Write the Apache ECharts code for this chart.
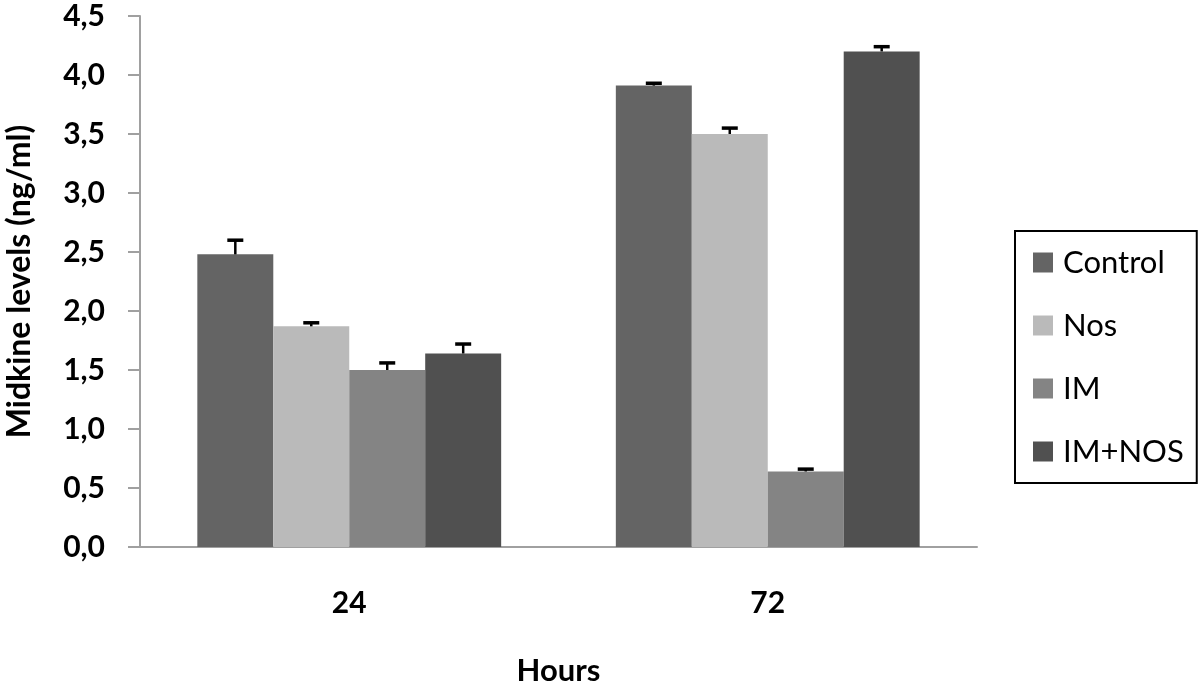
<!DOCTYPE html>
<html>
<head>
<meta charset="utf-8">
<script src="https://cdn.jsdelivr.net/npm/echarts@6/dist/echarts.min.js"></script>
<style>
  html, body { margin: 0; padding: 0; background: #fff; }
  #chart { width: 1200px; height: 688px; }
</style>
</head>
<body>
<div id="chart"></div>
<script>
const categories = ['24', '72']
const seriesNames = ['Control', 'Nos', 'IM', 'IM+NOS']
const controlValues = [2.48, 3.91]
const nosValues = [1.87, 3.50]
const imValues = [1.50, 0.64]
const imNosValues = [1.64, 4.20]
const controlErr = [0.12, 0.02]
const nosErr = [0.03, 0.05]
const imErr = [0.06, 0.02]
const imNosErr = [0.08, 0.04]

const colors = ['#646464', '#bababa', '#848484', '#505050']
const values = [controlValues, nosValues, imValues, imNosValues]
const errors = [controlErr, nosErr, imErr, imNosErr]
const categoryGap = 0.274

const font = 'Lato, "Open Sans", sans-serif'

const chart = echarts.init(document.getElementById('chart'))

const barSeries = seriesNames.map((name, i) => ({
  name: name,
  type: 'bar',
  data: values[i],
  barGap: '0%',
  barCategoryGap: (categoryGap * 100) + '%',
  itemStyle: { color: colors[i] },
  z: 2
}))

// error bars on top of each bar
const errorSeries = seriesNames.map((name, i) => ({
  type: 'custom',
  data: values[i].map((v, k) => [k, v, v + errors[i][k]]),
  z: 5,
  silent: true,
  renderItem(params, api) {
    const band = api.size([1, 0])[0]
    const barW = band * (1 - categoryGap) / 4
    const base = api.coord([api.value(0), api.value(1)])
    const top = api.coord([api.value(0), api.value(2)])
    const x = base[0] + (i - 1.5) * barW
    return {
      type: 'group',
      children: [
        { type: 'line', shape: { x1: x, y1: base[1], x2: x, y2: top[1] }, style: { stroke: '#000', lineWidth: 2.5 } },
        { type: 'line', shape: { x1: x - 8, y1: top[1], x2: x + 8, y2: top[1] }, style: { stroke: '#000', lineWidth: 3.5 } }
      ]
    }
  }
}))

chart.setOption({
  animation: false,
  grid: {
    left: 140,
    right: 223,
    top: 16,
    bottom: 141,
    outerBoundsMode: 'none'
  },
  legend: {
    orient: 'vertical',
    left: 1015,
    top: 231,
    data: seriesNames,
    itemWidth: 20,
    itemHeight: 20,
    itemGap: 32,
    padding: [16, 13, 16, 18],
    borderColor: '#000',
    borderWidth: 2,
    textStyle: { fontFamily: font, fontSize: 31, color: '#000', padding: [0, 0, 0, 5] },
    icon: 'rect'
  },
  xAxis: {
    type: 'category',
    data: categories,
    name: 'Hours',
    nameLocation: 'middle',
    nameGap: 108,
    nameTextStyle: { fontFamily: font, fontSize: 31, fontWeight: 'bold', color: '#000' },
    axisLine: { lineStyle: { color: '#a0a0a0', width: 2 } },
    axisTick: { show: false },
    axisLabel: { fontFamily: font, fontSize: 30, fontWeight: 'bold', color: '#000', margin: 41 }
  },
  yAxis: {
    type: 'value',
    min: 0,
    max: 4.5,
    interval: 0.5,
    name: 'Midkine levels (ng/ml)',
    nameLocation: 'middle',
    nameGap: 104,
    nameTextStyle: { fontFamily: font, fontSize: 32, fontWeight: 'bold', color: '#000' },
    axisLine: { show: true, lineStyle: { color: '#a0a0a0', width: 2 } },
    axisTick: { show: true, length: 12, lineStyle: { color: '#a0a0a0', width: 2 } },
    splitLine: { show: false },
    axisLabel: {
      fontFamily: font,
      fontSize: 30,
      fontWeight: 'bold',
      color: '#000',
      margin: 35,
      formatter: v => v.toFixed(1).replace('.', ',')
    }
  },
  series: barSeries.concat(errorSeries)
})
</script>
</body>
</html>
